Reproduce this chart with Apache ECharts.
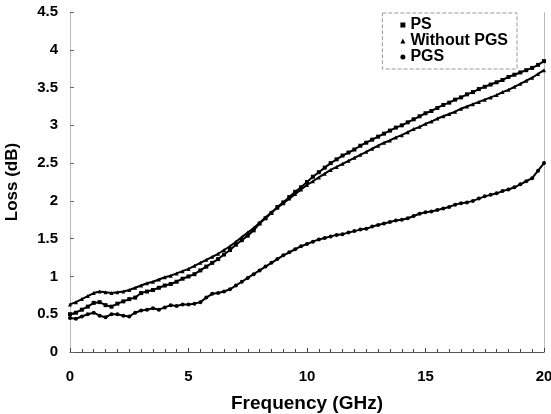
<!DOCTYPE html>
<html>
<head>
<meta charset="utf-8">
<script src="https://cdn.jsdelivr.net/npm/echarts@6/dist/echarts.min.js"></script>
<style>
  html, body { margin: 0; padding: 0; background: #fff; }
  #chart { width: 551px; height: 414px; }
</style>
</head>
<body>
<div id="chart"></div>
<script>
// frequency samples (GHz)
var freq = [0, 0.25, 0.5, 0.75, 1, 1.25, 1.5, 1.75, 2, 2.25, 2.5, 2.75, 3, 3.25, 3.5, 3.75,
  4, 4.25, 4.5, 4.75, 5, 5.25, 5.5, 5.75, 6, 6.25, 6.5, 6.75, 7, 7.25, 7.5, 7.75,
  8, 8.25, 8.5, 8.75, 9, 9.25, 9.5, 9.75, 10, 10.25, 10.5, 10.75, 11, 11.25, 11.5, 11.75,
  12, 12.25, 12.5, 12.75, 13, 13.25, 13.5, 13.75, 14, 14.25, 14.5, 14.75, 15, 15.25, 15.5, 15.75,
  16, 16.25, 16.5, 16.75, 17, 17.25, 17.5, 17.75, 18, 18.25, 18.5, 18.75, 19, 19.25, 19.5, 19.75, 20];

// loss (dB)
var ps = [0.50, 0.52, 0.56, 0.60, 0.65, 0.66, 0.62, 0.60, 0.64, 0.67, 0.70, 0.72, 0.78, 0.80, 0.82, 0.85,
  0.88, 0.90, 0.93, 0.97, 1.00, 1.03, 1.08, 1.13, 1.18, 1.23, 1.29, 1.35, 1.42, 1.48, 1.54, 1.61,
  1.70, 1.77, 1.84, 1.92, 1.98, 2.05, 2.12, 2.18, 2.25, 2.32, 2.38, 2.44, 2.50, 2.55, 2.60, 2.64,
  2.68, 2.73, 2.77, 2.81, 2.85, 2.89, 2.93, 2.97, 3.00, 3.04, 3.08, 3.12, 3.16, 3.19, 3.23, 3.27,
  3.30, 3.34, 3.37, 3.41, 3.44, 3.48, 3.51, 3.54, 3.57, 3.60, 3.64, 3.67, 3.70, 3.73, 3.76, 3.80, 3.85];

var withoutPgs = [0.63, 0.66, 0.70, 0.74, 0.78, 0.80, 0.79, 0.78, 0.79, 0.80, 0.82, 0.85, 0.88, 0.91, 0.93, 0.96,
  0.99, 1.01, 1.04, 1.07, 1.10, 1.14, 1.18, 1.22, 1.26, 1.30, 1.35, 1.40, 1.46, 1.52, 1.58, 1.64,
  1.71, 1.78, 1.85, 1.91, 1.97, 2.03, 2.09, 2.15, 2.21, 2.26, 2.31, 2.36, 2.41, 2.45, 2.49, 2.53,
  2.57, 2.61, 2.65, 2.69, 2.73, 2.77, 2.80, 2.84, 2.87, 2.91, 2.95, 2.98, 3.02, 3.05, 3.09, 3.12,
  3.15, 3.18, 3.22, 3.25, 3.28, 3.31, 3.34, 3.37, 3.40, 3.44, 3.47, 3.51, 3.55, 3.59, 3.63, 3.68, 3.73];

var pgs = [0.45, 0.44, 0.47, 0.50, 0.52, 0.48, 0.46, 0.50, 0.50, 0.48, 0.47, 0.52, 0.55, 0.56, 0.58, 0.56,
  0.59, 0.62, 0.61, 0.63, 0.63, 0.64, 0.66, 0.72, 0.77, 0.78, 0.80, 0.83, 0.88, 0.93, 0.98, 1.03,
  1.08, 1.13, 1.18, 1.23, 1.28, 1.32, 1.36, 1.40, 1.43, 1.46, 1.49, 1.51, 1.53, 1.55, 1.56, 1.58,
  1.60, 1.62, 1.63, 1.66, 1.68, 1.70, 1.72, 1.74, 1.75, 1.77, 1.80, 1.83, 1.85, 1.86, 1.88, 1.90,
  1.92, 1.95, 1.97, 1.98, 2.00, 2.03, 2.06, 2.08, 2.10, 2.13, 2.15, 2.18, 2.22, 2.26, 2.30, 2.40, 2.50];

var names = ["PS", "Without PGS", "PGS"];

function pairs(ys) {
  return freq.map(function (f, i) { return [f, ys[i]]; });
}

var myChart = echarts.init(document.getElementById("chart"));
var font = "Liberation Sans, Arial, sans-serif";

function mkSeries(name, ys, symbol, size) {
  return {
    name: name,
    type: "line",
    data: pairs(ys),
    symbol: symbol,
    symbolSize: size,
    showSymbol: true,
    itemStyle: { color: "#000" },
    lineStyle: { color: "#000", width: 2 },
    animation: false
  };
}

var option = {
  backgroundColor: "#fff",
  grid: { left: 70, right: 7, top: 12, bottom: 62, outerBoundsMode: "none" },
  legend: {
    right: 34,
    top: 13,
    orient: "vertical",
    itemWidth: 5,
    itemHeight: 5,
    itemGap: 0,
    padding: [4, 9, 4, 18],
    borderColor: "#999",
    borderWidth: 1,
    borderType: "dashed",
    data: names.map(function (n, i) {
      return { name: n, icon: ["rect", "triangle", "circle"][i] };
    }),
    textStyle: { fontFamily: font, fontWeight: "bold", fontSize: 16, color: "#000" }
  },
  xAxis: {
    type: "value",
    min: 0,
    max: 20,
    interval: 5,
    name: "Frequency (GHz)",
    nameLocation: "middle",
    nameGap: 42,
    nameTextStyle: { fontFamily: font, fontWeight: "bold", fontSize: 19, color: "#000" },
    axisLine: { show: true, lineStyle: { color: "#555", width: 1 } },
    axisTick: { show: true, inside: true, length: 4, lineStyle: { color: "#444" } },
    minorTick: { show: true, splitNumber: 10, length: 3, lineStyle: { color: "#444" } },
    axisLabel: { fontFamily: font, fontWeight: "bold", fontSize: 15, color: "#000", margin: 17 },
    splitLine: { show: false }
  },
  yAxis: [{
    type: "value",
    min: 0,
    max: 4.5,
    interval: 0.5,
    name: "Loss (dB)",
    nameLocation: "middle",
    nameGap: 49,
    nameTextStyle: { fontFamily: font, fontWeight: "bold", fontSize: 17, color: "#000" },
    axisLine: { show: true, lineStyle: { color: "#aaa", type: "dotted", width: 1 } },
    axisTick: { show: true, inside: true, length: 4, lineStyle: { color: "#666" } },
    axisLabel: { fontFamily: font, fontWeight: "bold", fontSize: 15, color: "#000", margin: 12 },
    splitLine: { show: false }
  }, {
    type: "value",
    min: 0,
    max: 4.5,
    interval: 0.5,
    position: "right",
    axisLine: { show: true, lineStyle: { color: "#aaa", type: "dotted", width: 1 } },
    axisTick: { show: false },
    axisLabel: { show: false },
    splitLine: { show: false }
  }],
  series: [
    mkSeries(names[0], ps, "rect", 4),
    mkSeries(names[1], withoutPgs, "triangle", 4),
    mkSeries(names[2], pgs, "circle", 4)
  ]
};

myChart.setOption(option);
</script>
</body>
</html>
